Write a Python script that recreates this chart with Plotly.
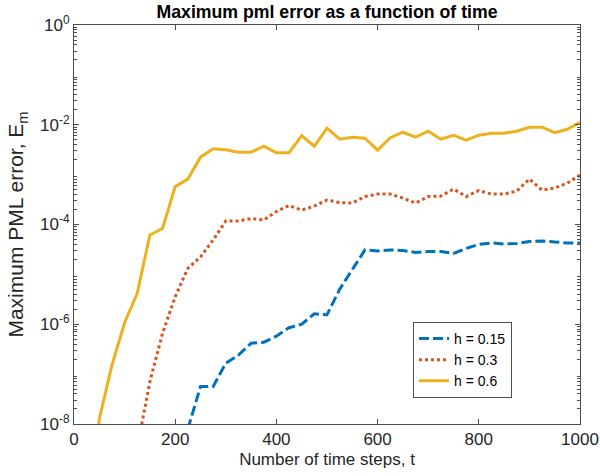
import plotly.graph_objects as go

# time steps
t = list(range(25, 1001, 25))

# log10 of maximum PML error (None = not drawn)
log_err_h015 = [None]*8 + [-8.1, -7.25, -7.25, -6.78, -6.62, -6.38, -6.36, -6.24, -6.07, -6.0,
                 -5.79, -5.81, -5.30, -4.90, -4.51, -4.53, -4.51, -4.52, -4.56, -4.54,
                 -4.54, -4.58, -4.48, -4.40, -4.37, -4.39, -4.38, -4.34, -4.33, -4.35,
                 -4.37, -4.37]
log_err_h03 = [None]*4 + [-8.48, -7.15, -6.18, -5.45, -4.88, -4.65, -4.31, -3.93, -3.93, -3.88,
               -3.91, -3.74, -3.62, -3.71, -3.63, -3.51, -3.56, -3.57, -3.44, -3.39,
               -3.39, -3.47, -3.57, -3.44, -3.43, -3.29, -3.44, -3.32, -3.39, -3.39,
               -3.33, -3.09, -3.31, -3.27, -3.17, -3.01]
log_err_h06 = [-10.0, -7.9, -6.82, -5.97, -5.38, -4.21, -4.08, -3.24, -3.09, -2.65,
               -2.48, -2.50, -2.55, -2.55, -2.43, -2.56, -2.56, -2.22, -2.43, -2.07,
               -2.29, -2.25, -2.27, -2.51, -2.26, -2.15, -2.25, -2.13, -2.29, -2.21,
               -2.31, -2.21, -2.17, -2.17, -2.13, -2.05, -2.05, -2.16, -2.09, -1.95]

series_names = ["h = 0.15", "h = 0.3", "h = 0.6"]
x_ticks = [0, 200, 400, 600, 800, 1000]
y_tick_exps = [-8, -6, -4, -2, 0]
y_tick_text = ["10<sup>%d</sup>" % e for e in y_tick_exps]


def to_err(vals):
    return [None if v is None else 10 ** v for v in vals]


colors = ["#0072BD", "#D95319", "#EDB120"]
dashes = ["10px,4px", "dot", "solid"]
data = [log_err_h015, log_err_h03, log_err_h06]

fig = go.Figure()
for name, vals, c, d in zip(series_names, data, colors, dashes):
    fig.add_trace(go.Scatter(x=t, y=to_err(vals), mode="lines", name=name,
                             line=dict(color=c, width=3, dash=d),
                             connectgaps=False))

minor_vals = [m * 10 ** e for e in range(-8, 0) for m in range(2, 10)]
axis_col = "#4d4d4d"
font = "Liberation Sans, Arial, Helvetica, sans-serif"

fig.update_layout(
    width=600, height=476,
    margin=dict(l=74, r=20, t=25, b=52, autoexpand=False),
    paper_bgcolor="white", plot_bgcolor="white",
    font=dict(family=font, size=17, color="#262626"),
    title=dict(text="<b>Maximum pml error as a function of time</b>",
               x=(74 + 580) / 2 / 600, xanchor="center", y=1 - 12 / 476, yanchor="middle",
               font=dict(size=17.7, color="black"), automargin=False),
    showlegend=True,
    legend=dict(x=0.67, y=0.256, xanchor="left", yanchor="top",
                bgcolor="white", bordercolor=axis_col, borderwidth=1,
                font=dict(size=14, color="black"), tracegroupgap=0,
                itemwidth=30),
    xaxis=dict(range=[0, 1000], tickvals=x_ticks, ticks="inside", ticklen=5,
               tickcolor=axis_col, showline=True, linecolor=axis_col, linewidth=1,
               mirror="ticks", showgrid=False, zeroline=False, automargin=False,
               title=dict(text="Number of time steps, t", standoff=4, font=dict(size=17)),
               tickfont=dict(size=17)),
    yaxis=dict(type="log", range=[-8, 0], tickvals=[10 ** e for e in y_tick_exps],
               ticktext=y_tick_text, ticks="inside", ticklen=5, tickcolor=axis_col,
               showline=True, linecolor=axis_col, linewidth=1, mirror="ticks",
               showgrid=False, zeroline=False, automargin=False,
               minor=dict(tickvals=minor_vals, ticks="inside", ticklen=3,
                          tickcolor=axis_col, showgrid=False),
               title=dict(text="Maximum PML error, E<sub>m</sub>", standoff=10,
                          font=dict(size=21)),
               tickfont=dict(size=17)),
)

fig.write_html("out.html", config={"displayModeBar": False},
               post_script="document.body.style.margin='0';document.body.style.overflow='hidden';")
